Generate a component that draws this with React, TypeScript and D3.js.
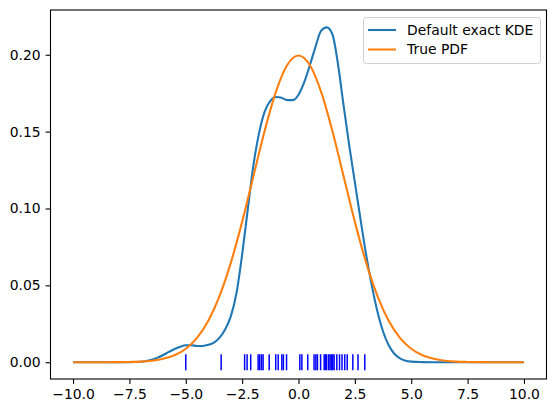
import React, { useEffect, useRef } from 'react';
import * as d3 from 'd3';

// grid shared by both curves
const kdeGrid = [
  -10, -7.5, -7, -6.75, -6.5, -6.25, -6, -5.75, -5.5, -5.25, -5, -4.75, -4.5, -4.25, -4,
  -3.75, -3.5, -3.25, -3, -2.75, -2.5, -2.25, -2, -1.75, -1.5, -1.25, -1, -0.75, -0.5,
  -0.25, 0, 0.25, 0.5, 0.75, 1, 1.25, 1.5, 1.75, 2, 2.25, 2.5, 2.75, 3, 3.25, 3.5, 3.75,
  4, 4.25, 4.5, 4.75, 5, 5.5, 6, 10,
];
const kdeDensity = [
  0, 0, 0.0003, 0.0008, 0.0016, 0.003, 0.0047, 0.0067, 0.0086, 0.0101, 0.011, 0.011,
  0.0106, 0.0106, 0.0113, 0.0128, 0.016, 0.0215, 0.03, 0.045, 0.07, 0.0995, 0.128,
  0.149, 0.163, 0.17, 0.1725, 0.172, 0.1705, 0.1705, 0.174, 0.182, 0.193, 0.205, 0.2155,
  0.2178, 0.2135, 0.194, 0.167, 0.141, 0.117, 0.093, 0.07, 0.05, 0.033, 0.02, 0.011,
  0.0055, 0.0025, 0.001, 0.0004, 0.0001, 0, 0,
];

const pdfGrid = [
  -10, -9.5, -9, -8.5, -8, -7.5, -7, -6.5, -6, -5.5, -5, -4.5, -4, -3.5, -3, -2.5, -2,
  -1.5, -1, -0.5, 0, 0.5, 1, 1.5, 2, 2.5, 3, 3.5, 4, 4.5, 5, 5.5, 6, 6.5, 7, 7.5, 8,
  8.5, 9, 9.5, 10,
];
const pdfDensity = [
  0, 0, 0, 0, 0.0001, 0.0002, 0.0004, 0.001, 0.0022, 0.0045, 0.0088, 0.0159, 0.027,
  0.0432, 0.0648, 0.0913, 0.121, 0.1506, 0.176, 0.1933, 0.1995, 0.1933, 0.176, 0.1506,
  0.121, 0.0913, 0.0648, 0.0432, 0.027, 0.0159, 0.0088, 0.0045, 0.0022, 0.001, 0.0004,
  0.0002, 0.0001, 0, 0, 0, 0,
];

// observed samples, drawn as a rug at y = 0
const observations = [
  -5.0, -3.43, -2.39, -2.28, -2.12, -1.79, -1.72, -1.64, -1.57, -1.3, -1.01, -0.9,
  -0.74, -0.67, -0.53, 0.06, 0.15, 0.41, 0.69, 0.77, 0.84, 0.98, 1.14, 1.2, 1.25, 1.34,
  1.4, 1.46, 1.52, 1.58, 1.7, 1.82, 1.93, 2.05, 2.16, 2.41, 2.64, 2.94,
];

const xTicks = [-10, -7.5, -5, -2.5, 0, 2.5, 5, 7.5, 10];
const yTicks = [0, 0.05, 0.1, 0.15, 0.2];

const W = 556;
const H = 413;
const FONT = 'DejaVu Sans, sans-serif';

export default function App() {
  const ref = useRef<SVGSVGElement>(null);

  useEffect(() => {
    document.body.style.margin = '0';
    if (!ref.current) return;
    const svg = d3.select(ref.current);
    svg.selectAll('*').remove();

    const left = 50.5, right = 546.5, top = 10, bottom = 379;
    const x = d3.scaleLinear().domain([-11, 11]).range([left, right]);
    const y = d3.scaleLinear().domain([-0.0109, 0.2291]).range([bottom, top]);

    const line = d3.line<[number, number]>()
      .x(d => x(d[0]))
      .y(d => y(d[1]))
      .curve(d3.curveMonotoneX);

    svg.append('rect').attr('width', W).attr('height', H).attr('fill', '#fff');

    const plot = svg.append('g');

    plot.append('path')
      .datum(kdeGrid.map((v, i) => [v, kdeDensity[i]] as [number, number]))
      .attr('d', line)
      .attr('fill', 'none')
      .attr('stroke', '#1f77b4')
      .attr('stroke-width', 2.08);

    plot.append('path')
      .datum(pdfGrid.map((v, i) => [v, pdfDensity[i]] as [number, number]))
      .attr('d', line)
      .attr('fill', 'none')
      .attr('stroke', '#ff7f0e')
      .attr('stroke-width', 2.08);

    plot.selectAll('.rug')
      .data(observations)
      .enter().append('line')
      .attr('x1', d => x(d))
      .attr('x2', d => x(d))
      .attr('y1', y(0) - 8)
      .attr('y2', y(0) + 8)
      .attr('stroke', '#0000ff')
      .attr('stroke-width', 1.5);

    // axes frame
    svg.append('rect')
      .attr('x', left).attr('y', top)
      .attr('width', right - left).attr('height', bottom - top)
      .attr('fill', 'none').attr('stroke', '#000').attr('stroke-width', 1.1);

    const xAxis = svg.append('g')
      .attr('transform', `translate(0,${bottom})`)
      .call(d3.axisBottom(x).tickValues(xTicks).tickSize(4.9).tickPadding(4.9)
        .tickFormat(d => d3.format('.1f')(d as number).replace('-', '\u2212')));
    const yAxis = svg.append('g')
      .attr('transform', `translate(${left},0)`)
      .call(d3.axisLeft(y).tickValues(yTicks).tickSize(4.9).tickPadding(4.9)
        .tickFormat(d => d3.format('.2f')(d as number)));
    [xAxis, yAxis].forEach(a => {
      a.select('.domain').remove();
      a.selectAll('line').attr('stroke', '#000').attr('stroke-width', 1.1);
      a.selectAll('text').attr('fill', '#000').attr('font-family', FONT).attr('font-size', 13.9);
    });

    // legend
    const lg = svg.append('g');
    lg.append('rect')
      .attr('x', 363.5).attr('y', 17.5).attr('width', 177).attr('height', 46).attr('rx', 3)
      .attr('fill', '#fff').attr('fill-opacity', 0.8)
      .attr('stroke', '#d0d0d0').attr('stroke-width', 1);
    const entries = [
      { label: 'Default exact KDE', color: '#1f77b4' },
      { label: 'True PDF', color: '#ff7f0e' },
    ];
    entries.forEach((e, i) => {
      const cy = 30 + i * 19.5;
      lg.append('line')
        .attr('x1', 368).attr('x2', 396).attr('y1', cy).attr('y2', cy)
        .attr('stroke', e.color).attr('stroke-width', 2.08);
      lg.append('text')
        .attr('x', 407).attr('y', cy).attr('dy', '0.35em')
        .attr('font-family', FONT).attr('font-size', 13.9).attr('fill', '#000')
        .text(e.label);
    });
  }, []);

  return <svg ref={ref} width={W} height={H} style={{ display: 'block' }} />;
}
